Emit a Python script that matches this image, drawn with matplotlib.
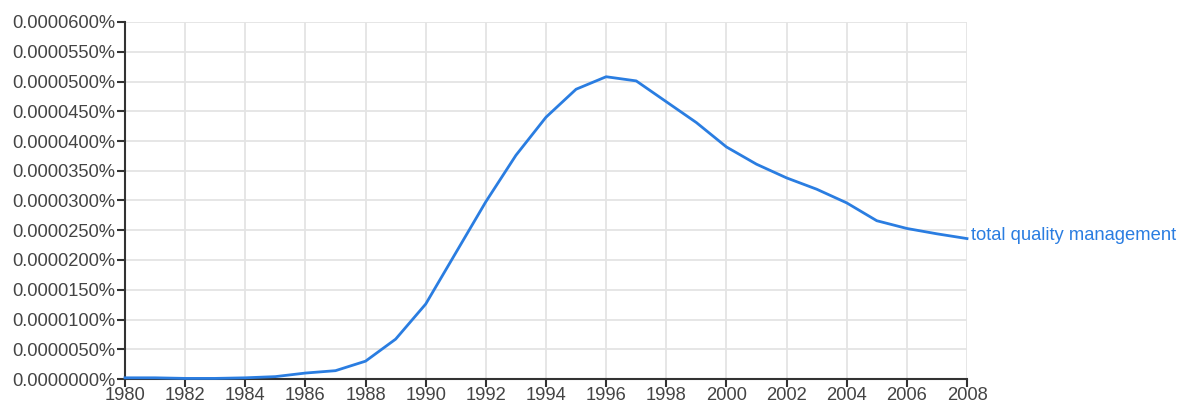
import matplotlib
matplotlib.use("Agg")
import matplotlib.pyplot as plt
from matplotlib.ticker import FuncFormatter, MultipleLocator

years = list(range(1980, 2009))
values = [0.0000002, 0.0000002, 0.0000001, 0.0000001, 0.0000002, 0.0000004,
          0.0000010, 0.0000014, 0.0000030, 0.0000067, 0.0000126, 0.0000212,
          0.0000298, 0.0000376, 0.0000440, 0.0000487, 0.0000508, 0.0000501,
          0.0000466, 0.0000431, 0.0000390, 0.0000361, 0.0000338, 0.0000319,
          0.0000296, 0.0000266, 0.0000253, 0.0000244, 0.0000236]
series_label = "total quality management"

plt.rcParams['font.family'] = ['Liberation Sans', 'DejaVu Sans']

fig = plt.figure(figsize=(11.8, 4.03), dpi=100)
ax = fig.add_axes([125/1180, 24/403, (967-125)/1180, (379-22)/403])

line_color = '#2a7de1'
ax.plot(years, values, color=line_color, lw=2, solid_joinstyle='round', zorder=3, clip_on=False)
ax.annotate(series_label, xy=(years[-1], values[-1]), xytext=(3, 2),
            textcoords='offset points', color=line_color,
            fontsize=13.2, va='center', ha='left')

ax.set_xlim(1980, 2008)
ax.set_ylim(0, 0.00006)
ax.xaxis.set_major_locator(MultipleLocator(2))
ax.yaxis.set_major_locator(MultipleLocator(0.000005))
ax.yaxis.set_major_formatter(FuncFormatter(lambda v, p: f"{v:.7f}%"))

ax.grid(True, color='#e4e4e4', lw=1.3, zorder=0)
for s in ['top', 'right']:
    ax.spines[s].set_visible(False)
for s in ['left', 'bottom']:
    ax.spines[s].set_color('#333333')
    ax.spines[s].set_linewidth(1.5)
ax.tick_params(axis='both', colors='#333333', labelcolor='#444444', labelsize=13.2,
               length=6, width=1.5)
ax.tick_params(axis='y', pad=1)
ax.tick_params(axis='x', pad=0)

fig.savefig("out.png", dpi=100)
